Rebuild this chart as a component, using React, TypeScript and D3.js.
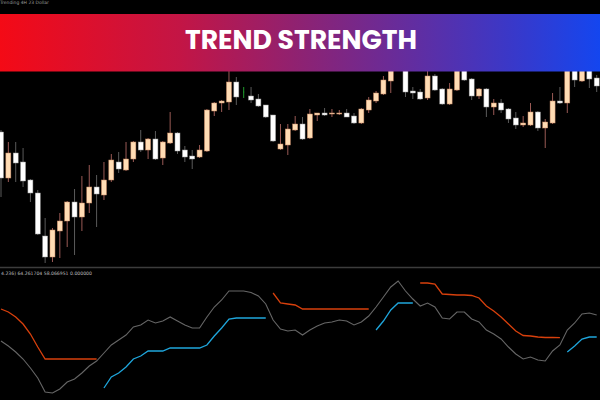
import React from "react";
import * as d3 from "d3";

const W = 600;
const H = 400;

const open = [1.0931,1.0885,1.0910,1.0901,1.0883,1.0870,1.0827,1.0806,1.0832,1.0842,
1.0861,1.0846,1.0860,1.0876,1.0868,1.0883,1.0901,1.0893,1.0904,1.0921,
1.0913,1.0924,1.0905,1.0920,1.0930,1.0913,1.0907,1.0906,1.0912,1.0952,
1.0960,1.0961,1.0981,1.0971,1.0967,1.0964,1.0958,1.0948,1.0914,1.0918,
1.0933,1.0939,1.0925,1.0948,1.0950,1.0949,1.0949,1.0950,1.0947,1.0940,
1.0953,1.0962,1.0969,1.0982,1.0997,1.0997,1.0972,1.0971,1.0965,1.0987,
1.0974,1.0959,1.0973,1.1001,1.0984,1.0967,1.0974,1.0956,1.0960,1.0954,
1.0945,1.0938,1.0938,1.0951,1.0935,1.0940,1.0962,1.0960,1.0997,1.0982,
1.0999,1.0985];

const high = [1.0933,1.0921,1.0921,1.0915,1.0884,1.0873,1.0845,1.0835,1.0850,1.0862,
1.0874,1.0887,1.0898,1.0888,1.0901,1.0909,1.0911,1.0921,1.0922,1.0933,
1.0925,1.0932,1.0922,1.0951,1.0931,1.0917,1.0913,1.0918,1.0954,1.0961,
1.0963,1.0995,1.0986,1.0976,1.0976,1.0969,1.0958,1.0948,1.0939,1.0939,
1.0947,1.0946,1.0954,1.0950,1.0955,1.0954,1.0953,1.0954,1.0950,1.0955,
1.0966,1.0972,1.0987,1.1001,1.1011,1.1003,1.0976,1.0974,1.0993,1.0989,
1.0975,1.0980,1.1003,1.1005,1.0985,1.0975,1.0975,1.0964,1.0964,1.0955,
1.0951,1.0947,1.0960,1.0952,1.0944,1.0970,1.0976,1.0997,1.0999,1.1003,
1.1001,1.0988];

const low = [1.0866,1.0881,1.0881,1.0876,1.0861,1.0828,1.0800,1.0801,1.0805,1.0816,
1.0808,1.0832,1.0850,1.0836,1.0863,1.0881,1.0890,1.0892,1.0901,1.0911,
1.0904,1.0903,1.0898,1.0919,1.0909,1.0901,1.0894,1.0905,1.0911,1.0947,
1.0951,1.0953,1.0958,1.0965,1.0960,1.0956,1.0945,1.0921,1.0913,1.0908,
1.0932,1.0923,1.0924,1.0942,1.0947,1.0946,1.0948,1.0946,1.0939,1.0939,
1.0950,1.0960,1.0968,1.0970,1.0993,1.0966,1.0964,1.0963,1.0963,1.0972,
1.0958,1.0958,1.0972,1.0982,1.0963,1.0964,1.0946,1.0948,1.0950,1.0940,
1.0934,1.0936,1.0937,1.0932,1.0915,1.0939,1.0959,1.0950,1.0976,1.0981,
1.0975,1.0971];

const close = [1.0885,1.0910,1.0900,1.0882,1.0870,1.0829,1.0806,1.0833,1.0842,1.0861,
1.0846,1.0860,1.0876,1.0869,1.0883,1.0903,1.0894,1.0904,1.0921,1.0913,
1.0924,1.0904,1.0921,1.0930,1.0912,1.0906,1.0904,1.0913,1.0953,1.0960,
1.0962,1.0981,1.0966,1.0971,1.0963,1.0957,1.0946,1.0922,1.0919,1.0934,
1.0939,1.0924,1.0949,1.0950,1.0948,1.0950,1.0950,1.0946,1.0940,1.0954,
1.0963,1.0970,1.0983,1.0995,1.1005,1.0971,1.0970,1.0964,1.0987,1.0973,
1.0959,1.0974,1.0997,1.0983,1.0967,1.0974,1.0956,1.0960,1.0953,1.0944,
1.0938,1.0940,1.0951,1.0935,1.0941,1.0962,1.0960,1.0995,1.0983,1.0997,
1.0984,1.0977];

const strength: number[] = [59,54,48,41,32,22,8,7,11,18,
21,27,34,39,47,55,60,65,73,75,
80,77,79,83,79,75,72,72,83,93,
100,109,109,109,107.5,104,96,80,71,69,
70,65,70,74,77,78,80,79,75,78,
84,93,103,113,119,109,101,94,97,93,
82,81,88,88,81,78,70,66,61,53,
46,41,43,40,39,49,55,70,77,86,
87,85];

const N = null;
const upperBand: (number | null)[] = [91,88,83,76,66,53,41,41,41,41,
41,41,41,41,N,N,N,N,N,N,
N,N,N,N,N,N,N,N,N,N,
N,N,N,N,N,N,N,107,97,96,
95,91,91,91,91,91,91,91,91,91,
91,N,N,N,N,N,N,117,117,116,
106,105.5,105,105,104.5,102,94,89,83,76,
69,64.5,64,63,62.5,62.5,62.3,N,N,N,
N,N];

const lowerBand: (number | null)[] = [N,N,N,N,N,N,N,N,N,N,
N,N,N,N,12,23,27,33,41,44,
49,49,49,52,52,52,52,52,55,64,
72,81,82,82,82,82,82,N,N,N,
N,N,N,N,N,N,N,N,N,N,
N,70,79,90,97,97,97,N,N,N,
N,N,N,N,N,N,N,N,N,N,
N,N,N,N,N,N,N,48,54,61,
63,63];

const titleText = "TREND STRENGTH";
const topLabel = "Trending 4H 23 Dollar";
const indicatorLabel = "4.236) 64.261704 58.066951 0.000000";

export default function App() {
  const idx = d3.range(open.length);
  const x = d3.scaleLinear().domain([0, open.length - 1]).range([1, 596.7]);
  const yP = d3.scaleLinear().domain([1.08, 1.1]).range([263, 63]);
  const yI = d3.scaleLinear().domain([0, 130]).range([400, 270]);
  const bodyW = 5;

  const lineGen = d3
    .line<number | null>()
    .defined((d) => d !== null)
    .x((_, i) => x(i))
    .y((d) => yI(d as number));

  const stops = [
    { o: 0, c: "#f40a16" },
    { o: 0.3, c: "#c31545" },
    { o: 0.5, c: "#8e2272" },
    { o: 0.7, c: "#5f2ea3" },
    { o: 0.85, c: "#3a38c8" },
    { o: 1, c: "#1446ef" },
  ];

  return (
    <svg
      width={W}
      height={H}
      style={{ position: "absolute", left: 0, top: 0, display: "block" }}
    >
      <defs>
        <linearGradient id="bannerGrad" x1="0" x2="1" y1="0" y2="0">
          {stops.map((s) => (
            <stop key={s.o} offset={s.o} stopColor={s.c} />
          ))}
        </linearGradient>
        <clipPath id="priceClip">
          <rect x={0} y={0} width={W} height={266} />
        </clipPath>
        <clipPath id="indClip">
          <rect x={0} y={269} width={W} height={131} />
        </clipPath>
      </defs>
      <rect x={0} y={0} width={W} height={H} fill="#000" />

      <g clipPath="url(#priceClip)">
        {idx.map((i) => {
          const o = open[i];
          const c = close[i];
          const cx = x(i);
          const doji = o === c;
          const bull = c > o;
          const top = yP(Math.max(o, c));
          const bot = yP(Math.min(o, c));
          const wickColor = doji ? "#1f9a2a" : bull ? "#9a5a55" : "#5a5a5a";
          return (
            <g key={i}>
              <line
                x1={cx}
                x2={cx}
                y1={yP(high[i])}
                y2={yP(low[i])}
                stroke={wickColor}
                strokeWidth={1}
              />
              {doji ? (
                <line
                  x1={cx - 0.5}
                  x2={cx + 0.5}
                  y1={top}
                  y2={top}
                  stroke="#1f9a2a"
                  strokeWidth={1}
                />
              ) : (
                <rect
                  x={cx - bodyW / 2}
                  y={top}
                  width={bodyW}
                  height={Math.max(1, bot - top)}
                  fill={bull ? "#ffdcb4" : "#ffffff"}
                  stroke={bull ? "#c98a66" : "#9a9a9a"}
                  strokeWidth={0.5}
                />
              )}
            </g>
          );
        })}
      </g>

      <line x1={0} x2={W} y1={267.5} y2={267.5} stroke="#3c3c3c" strokeWidth={1.5} />
      <text
        x={1}
        y={275}
        fontSize={4.6}
        fill="#bdbdbd"
        fontFamily="'DejaVu Sans', sans-serif"
      >
        {indicatorLabel}
      </text>

      <g clipPath="url(#indClip)" fill="none">
        <path d={lineGen(strength) || ""} stroke="#666666" strokeWidth={1.1} />
        <path d={lineGen(upperBand) || ""} stroke="#d8400c" strokeWidth={1.3} />
        <path d={lineGen(lowerBand) || ""} stroke="#1fa6dc" strokeWidth={1.3} />
      </g>

      <rect x={0} y={14} width={W} height={57.5} fill="url(#bannerGrad)" />
      <text
        x={301}
        y={48.5}
        textAnchor="middle"
        fontSize={26}
        fontWeight={700}
        fill="#ffffff"
        fontFamily="Poppins, 'Open Sans', sans-serif"
        textLength={232}
        lengthAdjust="spacingAndGlyphs"
      >
        {titleText}
      </text>
      <text
        x={0}
        y={4}
        fontSize={4.5}
        fill="#9a9a9a"
        fontFamily="'DejaVu Sans', sans-serif"
      >
        {topLabel}
      </text>
    </svg>
  );
}
